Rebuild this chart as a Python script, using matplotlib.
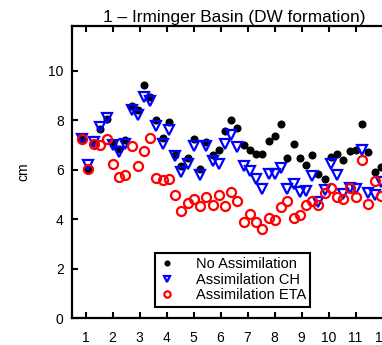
import numpy as np
import matplotlib
matplotlib.use('Agg')
import matplotlib.pyplot as plt

plt.rcParams['font.family'] = ['Liberation Sans', 'DejaVu Sans']

# weekly samples, placed on a month axis (1..12)
week = np.arange(49)
month_pos = 0.86 + week * 12.0 / 52.0

# sea level anomaly, cm
no_assim = [7.24, 6.04, 7.07, 7.65, 8.05, 7.02, 6.84, 7.18, 8.55, 8.42,
            9.40, 8.92, 8.01, 7.29, 7.92, 6.60, 6.14, 6.46, 7.24, 6.04,
            7.11, 6.60, 6.77, 7.54, 8.01, 7.67, 6.98, 6.77, 6.64, 6.64,
            7.15, 7.34, 7.85, 6.46, 7.04, 6.48, 6.20, 6.57, 5.81, 5.60,
            6.50, 6.64, 6.40, 6.73, 6.77, 7.85, 6.71, 5.90, 6.10]
assim_ch = [7.25, 6.20, 7.10, 7.70, 8.10, 7.00, 6.72, 7.05, 8.39, 8.21,
            8.95, 8.75, 7.74, 7.02, 7.61, 6.53, 5.90, 6.24, 6.95, 5.77,
            6.95, 6.33, 6.24, 7.04, 7.38, 6.91, 6.14, 5.93, 5.63, 5.23,
            5.81, 5.81, 6.06, 5.23, 5.40, 5.09, 5.13, 5.74, 4.69, 5.16,
            6.23, 5.77, 5.03, 5.27, 5.20, 6.77, 5.07, 4.98, 5.50]
assim_eta = [7.25, 6.04, 7.04, 7.00, 7.22, 6.24, 5.70, 5.78, 6.94, 6.13,
             6.75, 7.27, 5.65, 5.57, 5.60, 4.96, 4.31, 4.65, 4.79, 4.53,
             4.89, 4.56, 4.96, 4.52, 5.09, 4.73, 3.88, 4.19, 3.86, 3.59,
             4.06, 3.95, 4.49, 4.73, 4.06, 4.18, 4.58, 4.72, 4.58, 5.05,
             5.27, 4.89, 4.79, 5.27, 4.89, 6.37, 4.62, 5.54, 4.92]

month_ticks = list(range(1, 13))
y_ticks = [0, 2, 4, 6, 8, 10]

fig = plt.figure(figsize=(3.82, 3.45), dpi=100)
ax = fig.add_axes([72 / 382, 27 / 345, 324 / 382, 292 / 345])

ax.plot(month_pos, no_assim, 'o', color='black', ms=4.8, mec='black',
        label='No Assimilation', zorder=3)
ax.plot(month_pos, assim_ch, 'v', color='blue', ms=7, mfc='none',
        mew=1.6, label='Assimilation CH', zorder=4)
ax.plot(month_pos, assim_eta, 'o', color='red', ms=6.5, mfc='none',
        mew=1.6, label='Assimilation ETA', zorder=5)

ax.set_xlim(0.5, 12.5)
ax.set_ylim(0, 11.8)
ax.set_xticks(month_ticks)
ax.set_yticks(y_ticks)

ax.tick_params(direction='in', length=4, width=1.5, labelsize=10,
               top=True, right=True)
ax.tick_params(axis='x', pad=9)
ax.tick_params(axis='y', pad=6)
for s in ax.spines.values():
    s.set_linewidth(1.6)

ax.set_ylabel('cm', fontsize=10)
ax.yaxis.set_label_coords(-0.13, 0.5)
ax.set_title('1 – Irminger Basin (DW formation)', fontsize=12.4, pad=3)

# legend box
leg = ax.legend(loc='lower left', bbox_to_anchor=(0.256, 0.039),
                borderaxespad=0, fontsize=10.5, numpoints=1,
                markerscale=0.7, handlelength=1.0, handletextpad=1.5,
                labelspacing=0.1, borderpad=0.3, fancybox=False,
                framealpha=1, edgecolor='black')
leg.get_frame().set_linewidth(1.5)

fig.savefig('out.png', dpi=100)
